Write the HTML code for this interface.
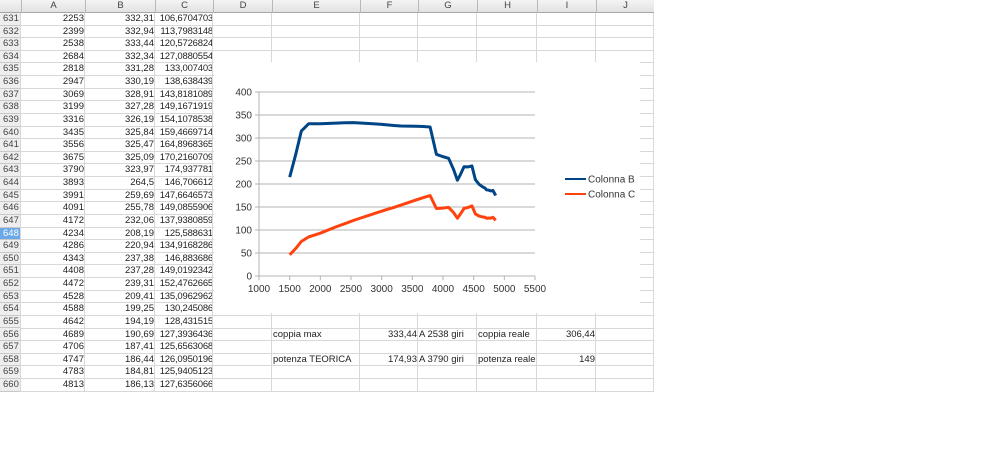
<!DOCTYPE html>
<html><head><meta charset="utf-8"><style>
html,body{margin:0;padding:0;background:#fff;width:1000px;height:459px;overflow:hidden;font-family:"Liberation Sans",sans-serif;font-size:9.5px;color:#222}
.c{position:absolute;box-sizing:border-box;white-space:nowrap;line-height:12px;overflow:hidden}
</style></head><body>
<div id="g"></div>
<svg id="ch" style="position:absolute;left:0;top:0" width="1000" height="459"></svg>
<script>
var cols=[0,21,85,155,213,272,360,418,477,537,596,654];
var names=["","A","B","C","D","E","F","G","H","I","J"];
var H0=13,RH=12.62;
var data=[[2253,"332,31","106,6704703"],[2399,"332,94","113,7983148"],[2538,"333,44","120,5726824"],[2684,"332,34","127,0880554"],[2818,"331,28","133,007403"],[2947,"330,19","138,638439"],[3069,"328,91","143,8181089"],[3199,"327,28","149,1671919"],[3316,"326,19","154,1078538"],[3435,"325,84","159,4669714"],[3556,"325,47","164,8968365"],[3675,"325,09","170,2160709"],[3790,"323,97","174,937781"],[3893,"264,5","146,706612"],[3991,"259,69","147,6646573"],[4091,"255,78","149,0855906"],[4172,"232,06","137,9380859"],[4234,"208,19","125,588631"],[4286,"220,94","134,9168286"],[4343,"237,38","146,883686"],[4408,"237,28","149,0192342"],[4472,"239,31","152,4762665"],[4528,"209,41","135,0962962"],[4588,"199,25","130,245086"],[4642,"194,19","128,431515"],[4689,"190,69","127,3936436"],[4706,"187,41","125,6563068"],[4747,"186,44","126,0950196"],[4783,"184,81","125,9405123"],[4813,"186,13","127,6356066"]];
var h='';
h+='<div class="c" style="left:0;top:0;width:654px;height:13px;background:linear-gradient(#f4f4f4,#e2e2e2);border-bottom:1px solid #a8a8a8"></div>';
for(var i=1;i<11;i++)h+='<div class="c" style="left:'+cols[i]+'px;top:0;width:'+(cols[i+1]-cols[i])+'px;height:13px;text-align:center;border-left:1px solid #b8b8b8;line-height:12px;color:#444">'+names[i]+'</div>';
h+='<div class="c" style="left:0;top:13px;width:21px;height:'+(30*RH)+'px;background:#eeeeee;border-right:1px solid #a8a8a8"></div>';
for(var r=0;r<30;r++){var y=H0+r*RH;
 var hl=(r==17);
 h+='<div class="c" style="left:0;top:'+y+'px;width:21px;height:'+RH+'px;padding-left:3px;border-bottom:1px solid #c8c8c8;color:#444;'+(hl?'background:#6aa8e8;color:#fff;':'')+'">'+(631+r)+'</div>';
 h+='<div class="c" style="left:21px;top:'+(y+RH-1)+'px;width:633px;height:1px;background:#d8d8d8"></div>';
 var d=data[r];
 h+='<div class="c" style="left:21px;top:'+y+'px;width:64px;text-align:right;padding-right:1px">'+d[0]+'</div>';
 h+='<div class="c" style="left:85px;top:'+y+'px;width:70px;text-align:right;padding-right:1px">'+d[1]+'</div>';
 h+='<div class="c" style="left:155px;top:'+y+'px;width:58px;text-align:right;padding-right:0px;letter-spacing:-0.2px">'+d[2]+'</div>';
}
for(var i=1;i<12;i++)h+='<div class="c" style="left:'+(cols[i]-1)+'px;top:13px;width:1px;height:'+(30*RH)+'px;background:#d8d8d8"></div>';
h+='<div class="c" style="left:214px;top:62px;width:426px;height:251px;background:#fff"></div>';
var y656=H0+25*RH,y658=H0+27*RH;
function t(x,y,w,s,al){return '<div class="c" style="left:'+x+'px;top:'+y+'px;width:'+w+'px;text-align:'+al+';padding:0 1px;z-index:2">'+s+'</div>';}
h+=t(272,y656,88,'coppia max','left')+t(360,y656,58,'333,44','right')+t(418,y656,59,'A 2538 giri','left')+t(477,y656,60,'coppia reale','left')+t(537,y656,59,'306,44','right');
h+=t(272,y658,88,'potenza TEORICA','left')+t(360,y658,58,'174,93','right')+t(418,y658,59,'A 3790 giri','left')+t(477,y658,60,'potenza reale','left')+t(537,y658,59,'149','right');
document.getElementById('g').innerHTML=h;
function px(x){return 259+(x-1000)*276/4500}function py(y){return 276-y*0.46}
var s='';
for(var v=0;v<=400;v+=50){var yy=py(v);s+='<line x1="259" x2="535" y1="'+yy+'" y2="'+yy+'" stroke="#b3b3b3" stroke-width="1"/><line x1="255" x2="259" y1="'+yy+'" y2="'+yy+'" stroke="#b3b3b3"/><text x="252" y="'+(yy+3.5)+'" text-anchor="end" font-size="10" fill="#333" font-family="Liberation Sans">'+v+'</text>';}
for(var v=1000;v<=5500;v+=500){var xx=px(v);s+='<line x1="'+xx+'" x2="'+xx+'" y1="276" y2="280" stroke="#b3b3b3"/><text x="'+xx+'" y="292" text-anchor="middle" font-size="10" fill="#333" font-family="Liberation Sans">'+v+'</text>';}
s+='<line x1="259" x2="259" y1="92" y2="276" stroke="#b3b3b3"/>';
var B=[[1500,215],[1600,265],[1690,315],[1810,331],[2000,331]],C=[[1500,46],[1600,60],[1690,75],[1810,85],[2000,93]];
data.forEach(function(d){B.push([d[0],parseFloat(d[1].replace(',','.'))]);C.push([d[0],parseFloat(d[2].replace(',','.'))]);});
B.push([4860,175]);C.push([4860,121]);
function pl(a,c){return '<polyline fill="none" stroke="'+c+'" stroke-width="3" stroke-linejoin="round" points="'+a.map(function(p){return px(p[0]).toFixed(1)+','+py(p[1]).toFixed(1)}).join(' ')+'"/>';}
s+=pl(B,'#004586')+pl(C,'#ff420e');
s+='<line x1="565" x2="586" y1="179" y2="179" stroke="#004586" stroke-width="2"/><text x="588" y="182.5" font-size="10" fill="#333" font-family="Liberation Sans">Colonna B</text>';
s+='<line x1="565" x2="586" y1="194" y2="194" stroke="#ff420e" stroke-width="2"/><text x="588" y="197.5" font-size="10" fill="#333" font-family="Liberation Sans">Colonna C</text>';
document.getElementById('ch').innerHTML=s;
</script>
</body></html>
